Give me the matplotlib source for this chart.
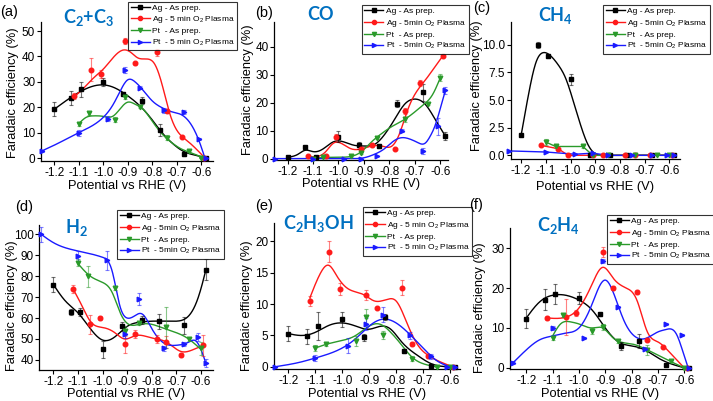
import numpy as np
import matplotlib
matplotlib.use("Agg")
import matplotlib.pyplot as plt
from matplotlib.lines import Line2D

plt.rcParams['font.family'] = ['Liberation Sans', 'DejaVu Sans']
plt.rcParams['axes.unicode_minus'] = False
plt.rcParams['mathtext.default'] = 'regular'

# ---------------- data ----------------
ag_prep_x = [-1.20, -1.13, -1.09, -1.00, -0.92, -0.84, -0.77, -0.67, -0.58]
ag_pl_x = [-1.12, -1.05, -1.01, -0.91, -0.87, -0.78, -0.74, -0.68, -0.59]
pt_prep_x = [-1.10, -1.06, -0.95, -0.91, -0.85, -0.74, -0.65, -0.60]
pt_pl_x = [-1.25, -1.10, -0.98, -0.91, -0.85, -0.75, -0.67, -0.61, -0.58]

# (a) C2+C3
a_ag_prep = [19.2, 23.5, 27.0, 29.8, 25.3, 22.6, 11.0, 1.5, 0.0]
a_ag_prep_err = [2.7, 2.7, 2.8, 1.6, 0.6, 1.5, 2.5, 0.8, 0.0]
a_ag_pl = [24.6, 34.8, 33.0, 46.0, 37.4, 41.6, 18.5, 8.2, 0.0]
a_ag_pl_err = [1.2, 4.5, 1.6, 1.2, 0.6, 1.3, 0.5, 0.5, 0.0]
a_pt_prep = [13.4, 17.7, 15.1, 23.9, 20.2, 8.0, 2.8, 0.0]
a_pt_prep_err = [0.6, 0.6, 1.0, 0.6, 0.5, 1.0, 0.3, 0.0]
a_pt_pl = [2.8, 10.0, 15.4, 34.5, 27.6, 18.8, 18.2, 7.4, 0.0]
a_pt_pl_err = [0.5, 1.2, 1.0, 1.2, 0.6, 1.0, 0.8, 0.5, 0.0]
a_fit_ag_prep_x = [-1.20, -1.13, -1.07, -1.00, -0.95, -0.90, -0.85, -0.80, -0.76, -0.72, -0.67, -0.62, -0.58]
a_fit_ag_prep_y = [19.2, 24.0, 27.3, 28.8, 27.5, 24.5, 20.5, 15.0, 10.0, 6.0, 2.5, 1.0, 0.0]
a_fit_ag_pl_x = [-1.12, -1.08, -1.04, -1.00, -0.96, -0.92, -0.89, -0.86, -0.82, -0.79, -0.76, -0.73, -0.70, -0.66, -0.62, -0.585]
a_fit_ag_pl_y = [24.0, 27.5, 31.5, 35.0, 39.5, 42.5, 41.8, 39.5, 39.0, 37.0, 29.0, 18.0, 11.0, 7.0, 3.5, 0.0]
a_fit_pt_prep_x = [-1.10, -1.07, -1.04, -1.00, -0.96, -0.93, -0.90, -0.87, -0.84, -0.80, -0.76, -0.72, -0.68, -0.64, -0.59]
a_fit_pt_prep_y = [13.5, 16.0, 16.6, 16.4, 16.5, 19.5, 22.0, 21.2, 19.5, 14.5, 9.5, 6.0, 3.5, 2.0, 0.0]
a_fit_pt_pl_x = [-1.25, -1.18, -1.10, -1.04, -1.00, -0.96, -0.93, -0.90, -0.87, -0.84, -0.80, -0.76, -0.72, -0.68, -0.64, -0.61, -0.585]
a_fit_pt_pl_y = [2.8, 6.0, 10.0, 13.0, 16.0, 21.0, 26.5, 30.8, 30.0, 27.0, 22.5, 19.8, 18.2, 17.0, 13.0, 7.0, 0.0]

# (b) CO
b_ag_prep = [0.6, 4.0, 0.6, 7.9, 4.7, 4.5, 19.7, 23.7, 8.1]
b_ag_prep_err = [0.3, 0.5, 0.3, 2.0, 1.3, 0.6, 1.2, 3.0, 1.3]
b_ag_pl = [0.8, 0.8, 7.9, 3.5, 4.7, 3.6, 17.0, 27.0, 36.8]
b_ag_pl_err = [0.2, 0.2, 1.0, 0.3, 0.4, 0.3, 1.2, 1.0, 0.6]
b_pt_prep = [0.0, 0.5, 0.8, 1.9, 7.4, 14.0, 19.7, 29.0]
b_pt_prep_err = [0.0, 0.0, 0.2, 0.4, 0.5, 1.0, 0.5, 1.2]
b_pt_pl = [0.0, 0.0, 0.0, 0.0, 1.0, 10.0, 2.7, 11.5, 24.5]
b_pt_pl_err = [0.0, 0.0, 0.0, 0.0, 0.0, 0.5, 1.0, 3.0, 1.3]
b_fit_ag_prep_x = [-1.20, -1.16, -1.13, -1.10, -1.06, -1.02, -0.98, -0.94, -0.90, -0.86, -0.82, -0.78, -0.74, -0.70, -0.66, -0.62, -0.58]
b_fit_ag_prep_y = [0.5, 1.5, 3.0, 2.5, 3.5, 6.0, 6.0, 4.8, 4.5, 5.0, 8.5, 14.0, 19.5, 21.3, 19.5, 14.0, 8.0]
b_fit_ag_pl_x = [-1.12, -1.08, -1.05, -1.02, -0.99, -0.95, -0.91, -0.87, -0.83, -0.79, -0.76, -0.73, -0.70, -0.66, -0.62, -0.59]
b_fit_ag_pl_y = [0.8, 0.8, 2.5, 5.5, 5.5, 3.5, 3.5, 4.5, 4.5, 4.5, 9.0, 17.0, 23.0, 28.0, 33.0, 36.8]
b_fit_pt_prep_x = [-1.10, -1.00, -0.95, -0.91, -0.87, -0.83, -0.79, -0.75, -0.71, -0.67, -0.63, -0.60]
b_fit_pt_prep_y = [0.2, 0.5, 0.8, 2.5, 6.0, 9.0, 11.5, 13.5, 16.0, 19.0, 23.0, 29.0]
b_fit_pt_pl_x = [-1.25, -1.10, -0.95, -0.90, -0.86, -0.82, -0.78, -0.75, -0.72, -0.69, -0.66, -0.64, -0.62, -0.60, -0.58]
b_fit_pt_pl_y = [0.0, 0.0, 0.0, 0.3, 1.5, 3.5, 6.5, 7.5, 7.0, 5.8, 5.5, 8.0, 12.0, 18.0, 24.5]

# (c) CH4
c_ag_prep = [1.8, 10.0, 9.0, 6.9, 0.0, 0.0, 0.0, 0.0, 0.0]
c_ag_prep_err = [0.0, 0.3, 0.2, 0.5, 0.1, 0.0, 0.0, 0.0, 0.0]
c_ag_pl = [0.9, 0.6, 0.0, 0.0, 0.0, 0.0, 0.0, 0.0, 0.0]
c_pt_prep = [1.2, 0.8, 0.8, 0.0, 0.0, 0.0, 0.0, 0.0]
c_pt_prep_err = [0.3, 0.1, 0.1, 0.0, 0.0, 0.0, 0.0, 0.0]
c_pt_pl = [0.4, 0.3, 0.1, 0.2, 0.0, 0.0, 0.0, 0.0, 0.0]
c_fit_ag_prep_x = [-1.20, -1.17, -1.14, -1.11, -1.08, -1.05, -1.02, -0.99, -0.96, -0.93, -0.90, -0.87, -0.80, -0.70, -0.58]
c_fit_ag_prep_y = [1.8, 5.5, 8.4, 9.3, 9.0, 8.2, 7.0, 5.0, 2.8, 1.0, 0.15, 0.0, 0.0, 0.0, 0.0]

# (d) H2
d_ag_prep = [76.0, 63.0, 63.0, 45.0, 56.0, 59.0, 58.5, 56.5, 83.0]
d_ag_prep_err = [3.5, 1.5, 2.0, 4.0, 2.0, 2.0, 3.5, 4.0, 5.0]
d_ag_pl = [74.0, 57.0, 60.0, 47.5, 52.5, 50.0, 48.5, 42.5, 47.0]
d_ag_pl_err = [2.0, 4.5, 1.0, 4.0, 2.0, 2.0, 3.0, 1.0, 5.0]
d_pt_prep = [86.5, 80.0, 74.5, 54.0, 57.5, 55.5, 50.0, 45.5]
d_pt_prep_err = [1.5, 5.0, 1.0, 2.0, 1.0, 10.0, 1.0, 3.0]
d_pt_pl = [100.0, 89.5, 87.5, 52.5, 69.0, 45.5, 47.5, 51.0, 38.5]
d_pt_pl_err = [3.5, 2.5, 4.5, 2.0, 3.0, 1.0, 1.0, 2.0, 2.0]
d_fit_ag_prep_x = [-1.20, -1.15, -1.10, -1.05, -1.00, -0.95, -0.90, -0.85, -0.80, -0.75, -0.70, -0.65, -0.62, -0.60, -0.58]
d_fit_ag_prep_y = [76.0, 68.0, 62.5, 55.0, 49.5, 51.0, 56.0, 58.0, 58.5, 58.5, 58.5, 61.0, 67.0, 74.0, 83.0]
d_fit_ag_pl_x = [-1.12, -1.08, -1.05, -1.00, -0.95, -0.91, -0.87, -0.80, -0.74, -0.68, -0.63, -0.59]
d_fit_ag_pl_y = [74.0, 65.0, 58.5, 55.5, 53.0, 50.0, 51.5, 50.5, 48.5, 44.0, 45.0, 47.0]
d_fit_pt_prep_x = [-1.10, -1.05, -1.00, -0.96, -0.93, -0.90, -0.85, -0.80, -0.75, -0.70, -0.65, -0.60]
d_fit_pt_prep_y = [86.0, 80.0, 77.0, 72.0, 63.0, 57.5, 57.0, 57.0, 55.0, 53.0, 50.0, 45.0]
d_fit_pt_pl_x = [-1.25, -1.20, -1.10, -1.00, -0.96, -0.93, -0.90, -0.87, -0.84, -0.80, -0.75, -0.70, -0.65, -0.62, -0.60, -0.58]
d_fit_pt_pl_y = [100.0, 96.0, 92.0, 89.0, 82.0, 66.0, 60.0, 61.0, 62.0, 55.0, 48.0, 47.0, 48.5, 49.0, 45.0, 38.5]

# (e) C2H3OH
e_ag_prep = [5.3, 4.9, 6.5, 7.6, 4.7, 7.9, 2.5, 0.1, 0.0]
e_ag_prep_err = [1.2, 1.2, 2.2, 1.2, 0.6, 0.5, 0.3, 0.0, 0.0]
e_ag_pl = [10.5, 18.4, 12.4, 11.4, 9.4, 12.6, 3.7, 1.7, 0.0]
e_ag_pl_err = [0.8, 1.6, 1.0, 0.8, 0.2, 1.2, 0.3, 0.3, 0.0]
e_pt_prep = [3.0, 3.6, 4.1, 8.0, 5.1, 1.3, 0.0, 0.0]
e_pt_prep_err = [0.5, 0.3, 0.8, 1.2, 0.6, 0.4, 0.0, 0.0]
e_pt_pl = [0.0, 1.4, 3.4, 6.8, 8.3, 5.0, 1.7, 0.0, 0.0]
e_pt_pl_err = [0.0, 0.5, 1.2, 1.0, 1.2, 0.6, 0.4, 0.0, 0.0]
e_fit_ag_prep_x = [-1.20, -1.15, -1.10, -1.05, -1.00, -0.95, -0.90, -0.85, -0.82, -0.78, -0.72, -0.67, -0.60]
e_fit_ag_prep_y = [5.3, 5.0, 5.5, 6.6, 7.0, 6.5, 6.0, 6.5, 6.0, 4.0, 1.8, 0.5, 0.0]
e_fit_ag_pl_x = [-1.12, -1.08, -1.05, -1.02, -0.98, -0.92, -0.88, -0.83, -0.80, -0.76, -0.72, -0.68, -0.62, -0.59]
e_fit_ag_pl_y = [11.0, 15.0, 16.2, 14.5, 12.5, 11.5, 10.5, 10.8, 10.5, 7.0, 3.5, 1.8, 0.5, 0.0]
e_fit_pt_prep_x = [-1.10, -1.05, -1.00, -0.95, -0.90, -0.86, -0.82, -0.78, -0.74, -0.70, -0.65]
e_fit_pt_prep_y = [3.0, 3.7, 4.2, 5.0, 6.5, 6.8, 5.5, 3.5, 1.5, 0.5, 0.0]
e_fit_pt_pl_x = [-1.25, -1.15, -1.10, -1.00, -0.95, -0.90, -0.85, -0.80, -0.75, -0.70, -0.65, -0.60]
e_fit_pt_pl_y = [0.0, 0.8, 1.4, 3.0, 4.5, 6.5, 7.6, 7.0, 5.2, 3.0, 1.0, 0.0]

# (f) C2H4
f_ag_prep = [12.3, 17.1, 18.5, 17.5, 13.4, 5.4, 6.8, 0.7, 0.0]
f_ag_prep_err = [2.4, 2.6, 2.5, 1.5, 0.4, 1.0, 1.8, 0.3, 0.0]
f_ag_pl = [12.5, 12.8, 13.8, 29.0, 20.0, 19.0, 7.0, 5.2, 0.0]
f_ag_pl_err = [0.4, 4.5, 0.8, 1.2, 0.4, 0.4, 0.4, 0.3, 0.0]
f_pt_prep = [7.5, 13.2, 9.3, 10.2, 6.8, 4.5, 1.7, 0.0]
f_pt_prep_err = [0.5, 0.4, 0.8, 0.8, 0.5, 1.3, 0.3, 0.0]
f_pt_pl = [1.3, 10.0, 7.5, 26.8, 15.2, 4.8, 11.0, 8.2, 0.0]
f_pt_pl_err = [0.3, 0.4, 0.3, 0.4, 0.3, 0.3, 0.3, 0.3, 0.0]
f_fit_ag_prep_x = [-1.20, -1.15, -1.10, -1.05, -1.00, -0.95, -0.90, -0.85, -0.80, -0.75, -0.70, -0.60]
f_fit_ag_prep_y = [12.5, 16.5, 18.2, 18.2, 17.0, 14.5, 10.0, 6.5, 5.5, 4.5, 2.5, 0.0]
f_fit_ag_pl_x = [-1.12, -1.05, -1.00, -0.95, -0.91, -0.87, -0.82, -0.78, -0.74, -0.70, -0.65, -0.60]
f_fit_ag_pl_y = [12.5, 12.7, 15.0, 21.0, 25.2, 22.5, 20.0, 17.0, 9.0, 6.5, 3.5, 0.0]
f_fit_pt_prep_x = [-1.10, -1.07, -1.03, -1.00, -0.95, -0.91, -0.87, -0.80, -0.74, -0.68, -0.60]
f_fit_pt_prep_y = [8.0, 11.0, 11.5, 11.0, 10.0, 10.0, 7.5, 6.0, 4.5, 2.5, 0.0]
f_fit_pt_pl_x = [-1.25, -1.20, -1.15, -1.10, -1.05, -1.00, -0.95, -0.90, -0.87, -0.83, -0.79, -0.75, -0.70, -0.67, -0.63, -0.60, -0.585]
f_fit_pt_pl_y = [1.3, 4.5, 7.0, 8.0, 8.7, 10.0, 16.0, 22.0, 19.0, 12.0, 8.0, 7.3, 9.0, 9.6, 8.5, 3.0, 0.0]

titles = ["C$_2$+C$_3$", "CO", "CH$_4$", "H$_2$", "C$_2$H$_3$OH", "C$_2$H$_4$"]
panel_tags = ["(a)", "(b)", "(c)", "(d)", "(e)", "(f)"]
labels_space = ["Ag - As prep.", "Ag - 5 min O$_2$ Plasma", "Pt  - As prep.", "Pt  - 5 min O$_2$ Plasma"]
labels_nospace = ["Ag - As prep.", "Ag - 5min O$_2$ Plasma", "Pt  - As prep.", "Pt  - 5min O$_2$ Plasma"]
xticks = [-1.2, -1.1, -1.0, -0.9, -0.8, -0.7, -0.6]
x_label = 'Potential vs RHE (V)'
y_label = 'Faradaic efficiency (%)'

# ---------------- styling ----------------
cols = ['#000000', '#ff1a1a', '#2a9a2a', '#1a1aff']
marks = ['s', 'o', 'v', '>']
xs_all = [ag_prep_x, ag_pl_x, pt_prep_x, pt_pl_x]


def spline(xk, yk, n=300):
    x = np.asarray(xk, float)
    y = np.asarray(yk, float)
    m = len(x)
    h = np.diff(x)
    A = np.zeros((m, m))
    b = np.zeros(m)
    A[0, 0] = 1
    A[-1, -1] = 1
    for i in range(1, m - 1):
        A[i, i - 1] = h[i - 1]
        A[i, i] = 2 * (h[i - 1] + h[i])
        A[i, i + 1] = h[i]
        b[i] = 3 * ((y[i + 1] - y[i]) / h[i] - (y[i] - y[i - 1]) / h[i - 1])
    c = np.linalg.solve(A, b)
    xs = np.linspace(x[0], x[-1], n)
    idx = np.clip(np.searchsorted(x, xs) - 1, 0, m - 2)
    dx = xs - x[idx]
    hh = h[idx]
    bb = (y[idx + 1] - y[idx]) / hh - hh * (2 * c[idx] + c[idx + 1]) / 3
    dd = (c[idx + 1] - c[idx]) / (3 * hh)
    ys = y[idx] + bb * dx + c[idx] * dx ** 2 + dd * dx ** 3
    return xs, ys


fig = plt.figure(figsize=(7.13, 4.01), dpi=100)
W, H = 713.0, 401.0


def make_ax(l, r, t, bt):
    return fig.add_axes([l / W, 1 - bt / H, (r - l) / W, (bt - t) / H])


panels = [
    dict(box=(41, 213, 21.7, 161.3), xlim=(-1.254, -0.552), ylim=(-1.3, 53.7), yt=[0, 10, 20, 30, 40, 50], yfmt='{:.0f}',
         data=[(a_ag_prep, a_ag_prep_err), (a_ag_pl, a_ag_pl_err), (a_pt_prep, a_pt_prep_err), (a_pt_pl, a_pt_pl_err)],
         fits=[(a_fit_ag_prep_x, a_fit_ag_prep_y), (a_fit_ag_pl_x, a_fit_ag_pl_y), (a_fit_pt_prep_x, a_fit_pt_prep_y), (a_fit_pt_pl_x, a_fit_pt_pl_y)],
         labels=labels_space, leg=(128, 1.5), title=(89, 17), tag=(0, 12), xlab=186, ylab=(13, 93)),
    dict(box=(274.3, 448, 21.7, 160), xlim=(-1.252, -0.57), ylim=(-0.5, 49), yt=[0, 10, 20, 30, 40], yfmt='{:.0f}',
         data=[(b_ag_prep, b_ag_prep_err), (b_ag_pl, b_ag_pl_err), (b_pt_prep, b_pt_prep_err), (b_pt_pl, b_pt_pl_err)],
         fits=[(b_fit_ag_prep_x, b_fit_ag_prep_y), (b_fit_ag_pl_x, b_fit_ag_pl_y), (b_fit_pt_prep_x, b_fit_pt_prep_y), (b_fit_pt_pl_x, b_fit_pt_pl_y)],
         labels=labels_nospace, leg=(361.5, 5), title=(320, 15), tag=(255, 13), xlab=184, ylab=(248, 90)),
    dict(box=(510.7, 680, 21.7, 159.3), xlim=(-1.242, -0.557), ylim=(-0.36, 12.1), yt=[0, 2.5, 5, 7.5, 10], yfmt='{:.1f}',
         data=[(c_ag_prep, c_ag_prep_err), (c_ag_pl, None), (c_pt_prep, c_pt_prep_err), (c_pt_pl, None)],
         fits=[(c_fit_ag_prep_x, c_fit_ag_prep_y), None, None, None],
         labels=labels_nospace, leg=(603, 5), title=(555, 15), tag=(473, 8), xlab=187, ylab=(477, 86)),
    dict(box=(39.3, 213, 225, 370), xlim=(-1.257, -0.551), ylim=(35.2, 104.4), yt=[40, 50, 60, 70, 80, 90, 100], yfmt='{:.0f}',
         data=[(d_ag_prep, d_ag_prep_err), (d_ag_pl, d_ag_pl_err), (d_pt_prep, d_pt_prep_err), (d_pt_pl, d_pt_pl_err)],
         fits=[(d_fit_ag_prep_x, d_fit_ag_prep_y), (d_fit_ag_pl_x, d_fit_ag_pl_y), (d_fit_pt_prep_x, d_fit_pt_prep_y), (d_fit_pt_pl_x, d_fit_pt_pl_y)],
         labels=labels_nospace, leg=(117, 210), title=(76, 228), tag=(15, 207), xlab=394.5, ylab=(12, 306)),
    dict(box=(274.3, 460, 223.3, 369), xlim=(-1.252, -0.563), ylim=(-0.35, 22.9), yt=[0, 5, 10, 15, 20], yfmt='{:.0f}',
         data=[(e_ag_prep, e_ag_prep_err), (e_ag_pl, e_ag_pl_err), (e_pt_prep, e_pt_prep_err), (e_pt_pl, e_pt_pl_err)],
         fits=[(e_fit_ag_prep_x, e_fit_ag_prep_y), (e_fit_ag_pl_x, e_fit_ag_pl_y), (e_fit_pt_prep_x, e_fit_pt_prep_y), (e_fit_pt_pl_x, e_fit_pt_pl_y)],
         labels=labels_space, leg=(363, 207), title=(318, 224), tag=(255, 206), xlab=394.5, ylab=(247, 306)),
    dict(box=(510, 690, 228.3, 369), xlim=(-1.262, -0.578), ylim=(-0.3, 35), yt=[0, 10, 20, 30], yfmt='{:.0f}',
         data=[(f_ag_prep, f_ag_prep_err), (f_ag_pl, f_ag_pl_err), (f_pt_prep, f_pt_prep_err), (f_pt_pl, f_pt_pl_err)],
         fits=[(f_fit_ag_prep_x, f_fit_ag_prep_y), (f_fit_ag_pl_x, f_fit_ag_pl_y), (f_fit_pt_prep_x, f_fit_pt_prep_y), (f_fit_pt_pl_x, f_fit_pt_pl_y)],
         labels=labels_nospace, leg=(607, 215), title=(558, 226), tag=(469, 205), xlab=394.5, ylab=(480, 308)),
]

for k, p in enumerate(panels):
    ax = make_ax(*p['box'])
    ax.set_xlim(*p['xlim'])
    ax.set_ylim(*p['ylim'])
    for s in ['top', 'right']:
        ax.spines[s].set_visible(False)
    for s in ['left', 'bottom']:
        ax.spines[s].set_linewidth(0.9)
    ax.set_xticks(xticks)
    ax.set_xticklabels(['{:.1f}'.format(v) for v in xticks])
    ax.set_yticks(p['yt'])
    ax.set_yticklabels([p['yfmt'].format(v) for v in p['yt']])
    ax.tick_params(direction='out', length=3, width=0.8, labelsize=8.5, pad=1.2)
    l, r, t, bt = p['box']
    fig.text(((l + r) / 2) / W, 1 - p['xlab'] / H, x_label, fontsize=9.3,
             ha='center', va='center')
    yx, yy = p['ylab']
    fig.text(yx / W, 1 - yy / H, y_label, fontsize=9.3, rotation=90,
             ha='center', va='center')
    handles = []
    for j in range(4):
        yv, ye = p['data'][j]
        xv = xs_all[j]
        fit = p['fits'][j]
        if fit is not None:
            fx, fy = spline(*fit)
            ax.plot(fx, fy, color=cols[j], lw=1.0, zorder=2)
        else:
            ax.plot(xv, yv, color=cols[j], lw=1.0, zorder=2)
        if ye is not None:
            ax.errorbar(xv, yv, yerr=ye, fmt='none', ecolor=cols[j], elinewidth=0.8,
                        capsize=1.6, capthick=0.8, alpha=0.55, zorder=3)
        ax.plot(xv, yv, ls='none', marker=marks[j], ms=3.3, color=cols[j], zorder=4, clip_on=False)
        handles.append(Line2D([], [], color=cols[j], marker=marks[j], ms=3.0, lw=1.0))
    lx, ly = p['leg']
    leg = ax.legend(handles, p['labels'], loc='upper left', bbox_to_anchor=(lx / W, 1 - ly / H),
                    bbox_transform=fig.transFigure, fontsize=6.0, frameon=True, fancybox=False,
                    edgecolor='black', borderpad=0.3, labelspacing=0.28, handlelength=2.3,
                    handletextpad=0.3, borderaxespad=0)
    leg.get_frame().set_linewidth(0.8)
    tx, ty = p['title']
    fig.text(tx / W, 1 - ty / H, titles[k], fontsize=13, fontweight='bold', color='#0070C0',
             family='Lato', ha='center', va='center')
    gx, gy = p['tag']
    fig.text(gx / W, 1 - gy / H, panel_tags[k], fontsize=10.5, ha='left', va='center')

fig.savefig('out.png', dpi=100)
